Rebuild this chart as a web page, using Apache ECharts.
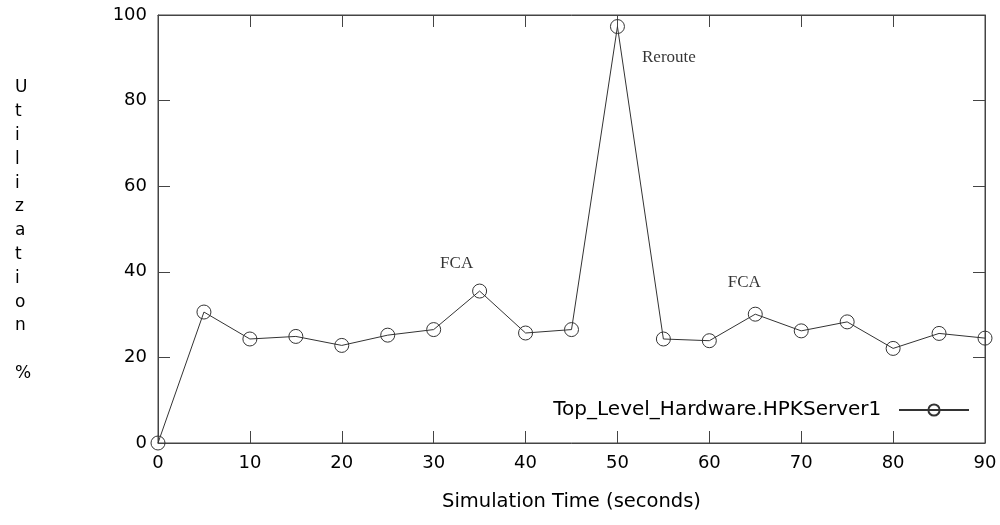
<!DOCTYPE html>
<html><head><meta charset="utf-8">
<script src="https://cdn.jsdelivr.net/npm/echarts@6/dist/echarts.min.js"></script>
<style>html,body{margin:0;padding:0;background:#fff}#c{width:1000px;height:525px}</style>
</head><body><div id="c"></div>
<script>
const times = [0,5,10,15,20,25,30,35,40,45,50,55,60,65,70,75,80,85,90];
const utilization = [0,30.6,24.3,24.9,22.8,25.2,26.5,35.5,25.7,26.5,97.3,24.3,23.9,30.1,26.2,28.3,22.1,25.6,24.5];
const seriesName = 'Top_Level_Hardware.HPKServer1';
const annotations = [
  {text:'FCA', x:32.5, y:42},
  {text:'Reroute', x:55.6, y:90},
  {text:'FCA', x:63.8, y:37.4}
];
const chart = echarts.init(document.getElementById('c'));
const lab = {fontFamily:'DejaVu Sans', fontSize:18, color:'#000'};
const axCol = '#444';
chart.setOption({
  animation:false,
  grid:{left:158, right:15, top:15, bottom:82, show:true, borderColor:axCol, borderWidth:1},
  legend:{data:[seriesName], right:25, top:395, align:'right', itemWidth:70, itemHeight:14, itemGap:22,
    formatter:n=>n+'  ',
    textStyle:{fontFamily:'DejaVu Sans', fontSize:20, color:'#000'}},
  graphic:[
    {type:'text', left:15, top:76, style:{text:'U\nt\ni\nl\ni\nz\na\nt\ni\no\nn\n\n%', fontFamily:'DejaVu Sans', fontSize:17, lineHeight:23.8, fill:'#000', align:'center'}}
  ],
  xAxis:[
    {type:'value', min:0, max:90, interval:10, position:'bottom',
     name:'Simulation Time (seconds)', nameLocation:'middle', nameGap:49,
     nameTextStyle:{fontFamily:'DejaVu Sans', fontSize:19.5, color:'#000'},
     axisLine:{onZero:false, lineStyle:{color:axCol}}, axisTick:{show:true, inside:true, length:12, lineStyle:{color:axCol}},
     axisLabel:{...lab, margin:11}, splitLine:{show:false}},
    {type:'value', min:0, max:90, interval:10, position:'top',
     axisLine:{show:true, onZero:false, lineStyle:{color:axCol}}, axisTick:{show:true, inside:true, length:12, lineStyle:{color:axCol}},
     axisLabel:{show:false}, splitLine:{show:false}}
  ],
  yAxis:[
    {type:'value', min:0, max:100, interval:20, position:'left',
     axisLine:{show:true, onZero:false, lineStyle:{color:axCol}}, axisTick:{show:true, inside:true, length:12, lineStyle:{color:axCol}},
     axisLabel:{...lab, margin:11}, splitLine:{show:false}},
    {type:'value', min:0, max:100, interval:20, position:'right',
     axisLine:{show:true, onZero:false, lineStyle:{color:axCol}}, axisTick:{show:true, inside:true, length:12, lineStyle:{color:axCol}},
     axisLabel:{show:false}, splitLine:{show:false}}
  ],
  series:[
    {name:seriesName, type:'line', data:times.map((t,i)=>[t,utilization[i]]),
     symbol:'circle', symbolSize:14, showAllSymbol:true,
     lineStyle:{color:'#333', width:1},
     itemStyle:{color:'rgba(0,0,0,0)', borderColor:'#333', borderWidth:1},
     clip:false},
    {type:'scatter', data:annotations.map(a=>[a.x,a.y,a.text]), symbolSize:0, silent:true,
     label:{show:true, position:'inside', formatter:p=>p.value[2], fontFamily:'Liberation Serif', fontSize:17, color:'#000'}},
    {type:'line', xAxisIndex:1, yAxisIndex:1, data:[], silent:true}
  ]
});
</script></body></html>
